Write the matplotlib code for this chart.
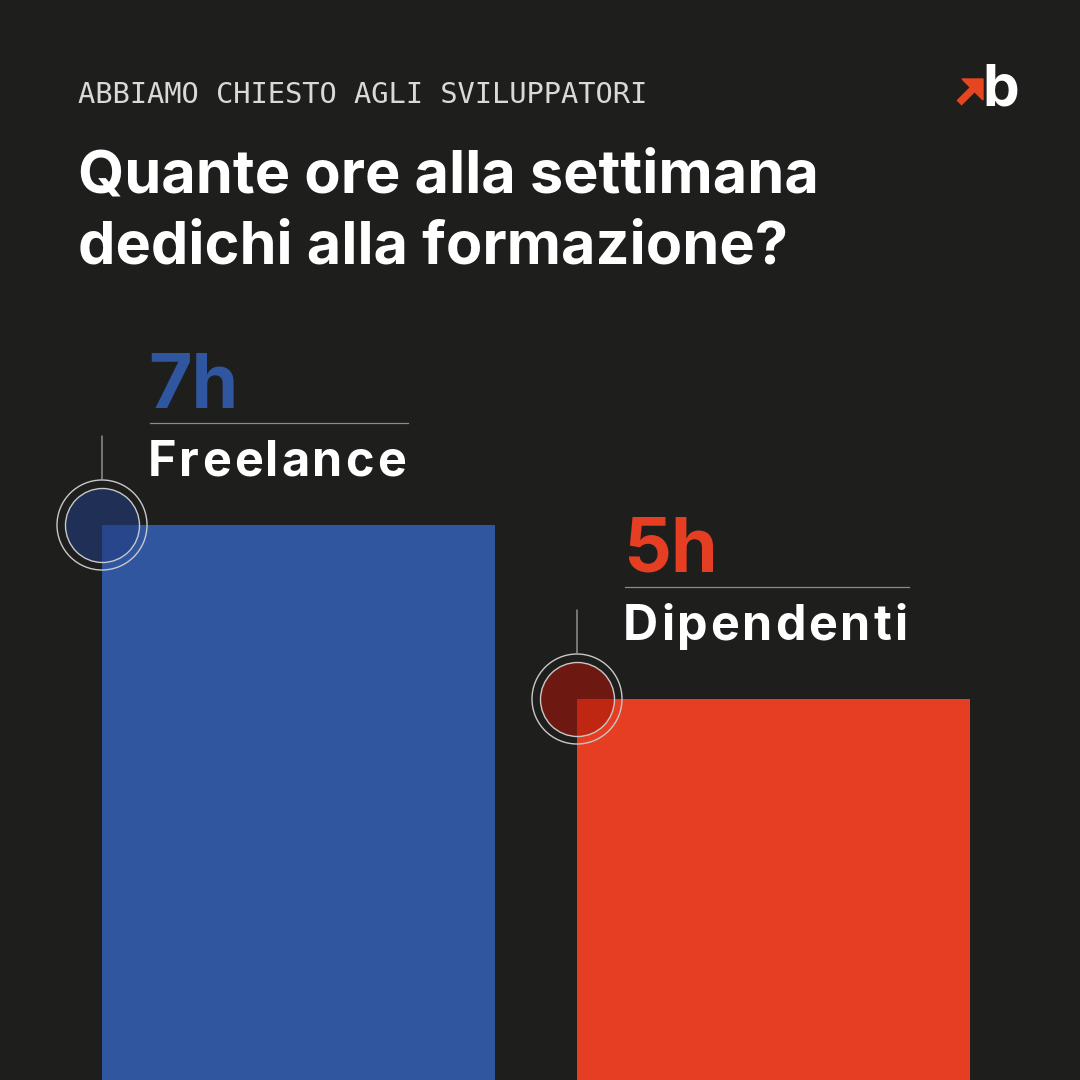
import matplotlib
matplotlib.use("Agg")
import matplotlib.pyplot as plt
import matplotlib.transforms as mtransforms
from matplotlib.lines import Line2D
from matplotlib.patches import Polygon
from matplotlib import font_manager
from matplotlib.ft2font import FT2Font

# data
groups = ["Freelance", "Dipendenti"]
hours = [7, 5]
value_labels = ["7h", "5h"]

BG = "#1e1e1d"
BAR_COLORS = ["#3156a0", "#e53e22"]
RING_FILL = [(32/255, 60/255, 127/255, 0.59), (165/255, 23/255, 10/255, 0.59)]
LABEL_SHIFT = [-5, 5]   # px, small per-label nudge
W, H = 1080, 1080
DPI = 100

fig = plt.figure(figsize=(W / DPI, H / DPI), dpi=DPI, facecolor=BG)


def fx(px):
    return px / W


def fy(py):
    return 1 - py / H


bold_path = font_manager.findfont(font_manager.FontProperties(family="Inter", weight="bold"))


def advances(s, size):
    f = FT2Font(bold_path)
    f.set_size(size, DPI)
    return [f.load_char(ord(c)).linearHoriAdvance / 65536 for c in s]


def tracked_text(x0, y0, s, size, track, color, dx, dy):
    # draws s letter by letter with extra spacing, returns total width in px
    pos = 0
    for c, adv in zip(s, advances(s, size)):
        tr = mtransforms.offset_copy(ax.transData, fig=fig, x=dx + pos, y=dy, units="dots")
        ax.text(x0, y0, c, transform=tr, family="Inter", weight="bold", fontsize=size,
                color=color, va="baseline", ha="left")
        pos += adv + track
    return pos - track


# header
fig.text(fx(78), fy(103), "ABBIAMO CHIESTO AGLI SVILUPPATORI", family="DejaVu Sans Mono",
         fontsize=20.7, color="#d9d9d9", va="baseline")
fig.text(fx(78), fy(192), "Quante ore alla settimana", family="Inter", weight="bold",
         fontsize=42.8, color="white", va="baseline")
fig.text(fx(78), fy(263), "dedichi alla formazione?", family="Inter", weight="bold",
         fontsize=42.8, color="white", va="baseline")

# logo
fig.text(fx(982), fy(106), "b", family="Inter", weight="bold", fontsize=42,
         color="white", va="baseline")
arrow_head = Polygon([(fx(983), fy(79)), (fx(962), fy(79)), (fx(983), fy(100))],
                     closed=True, transform=fig.transFigure, color="#e5461f")
fig.add_artist(arrow_head)
fig.add_artist(Line2D([fx(959), fx(976)], [fy(103), fy(86)], transform=fig.transFigure,
                      color="#e5461f", lw=5.2, solid_capstyle="butt"))

# bars: baseline sits below the picture
ax = fig.add_axes([0, -54 / H, 1, 1134 / H])
ax.set_facecolor(BG)
bar_w = 393 / 475
x = list(range(len(groups)))
ax.bar(x, hours, width=bar_w, color=BAR_COLORS, zorder=1)
ax.set_xlim(-298.5 / 475, (W - 298.5) / 475)
ax.set_ylim(0, 1134 / 87)
ax.axis("off")

for i, (g, v, lab) in enumerate(zip(groups, hours, value_labels)):
    left = x[i] - bar_w / 2
    sh = LABEL_SHIFT[i]

    # rings at the bar corner
    ax.scatter([left], [v], s=(74 * 0.72) ** 2, color=RING_FILL[i],
               edgecolors="#c8c8c8", linewidths=1.0, zorder=3)
    ax.scatter([left], [v], s=(90 * 0.72) ** 2, facecolors="none",
               edgecolors="#c8c8c8", linewidths=1.0, zorder=3)
    ax.annotate("", xy=(left, v), xytext=(0, 89 * 0.72), textcoords="offset points",
                arrowprops=dict(arrowstyle="-", color="#9a9a9a", lw=1.0,
                                shrinkA=0, shrinkB=45 * 0.72))

    # labels
    tr = mtransforms.offset_copy(ax.transData, fig=fig, x=46, y=122 + sh, units="dots")
    ax.text(left, v, lab, transform=tr, family="Inter", weight="bold",
            fontsize=54, color=BAR_COLORS[i], va="baseline", ha="left")
    width = tracked_text(left, v, g, 35, 2.8, "white", 46, 54 + sh)
    y_line = ax.transData.transform((left, v))[1] + 107 + sh
    x_line = ax.transData.transform((left, v))[0] + 48
    fig.add_artist(Line2D([x_line, x_line + width], [y_line, y_line], transform=None,
                          color="#8a8a8a", lw=0.9))

fig.savefig("out.png", dpi=DPI, facecolor=BG)
